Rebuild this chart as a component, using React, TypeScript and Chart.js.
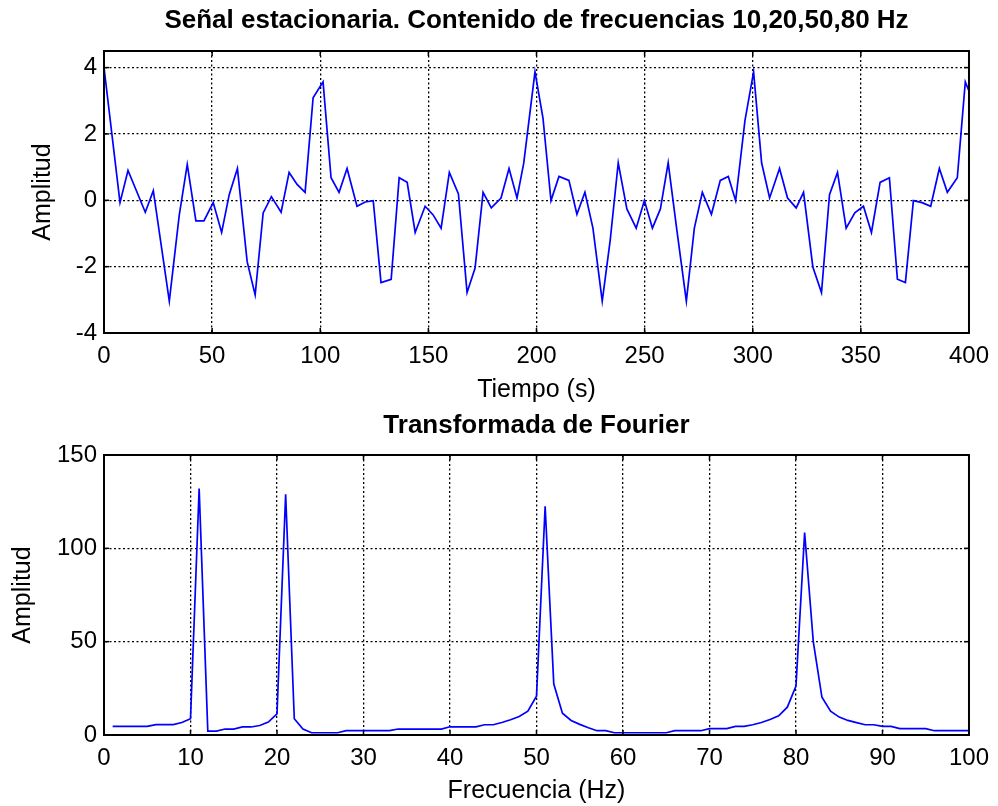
import React, { useEffect, useRef } from 'react';
import { Chart, registerables } from 'chart.js';

Chart.register(...registerables);

// ---------- Data ----------
const TIME_S = [
  0, 7.4, 11.1, 19.1, 22.8, 30.2, 34.8, 38.5, 42.5, 46.2,
  50.5, 54.4, 57.9, 61.7, 66.2, 69.9, 73.6, 77.4, 81.9, 85.6,
  89.3, 93.0, 96.7, 101.3, 105.0, 108.7, 112.4, 117.0, 120.8, 124.5,
  128.1, 132.8, 136.5, 140.2, 143.9, 148.5, 152.2, 155.9, 159.7, 163.9,
  167.9, 171.6, 175.3, 179.1, 183.6, 187.3, 191.0, 194.1, 199.3, 203.0,
  206.7, 210.4, 215.0, 218.7, 222.4, 226.1, 230.4, 234.1, 237.8, 241.8,
  246.1, 249.9, 253.6, 257.3, 260.9, 264.9, 269.3, 273.0, 276.7, 280.9,
  285.0, 288.7, 292.1, 296.4, 300.4, 304.1, 307.8, 312.4, 316.1, 320.1,
  323.5, 327.8, 331.8, 335.5, 339.2, 343.2, 347.2, 351.2, 354.9, 358.9,
  363.2, 366.9, 370.6, 374.3, 378.3, 382.3, 386.3, 390.0, 394.6, 398.3,
  400,
];

const SIGNAL_AMP = [
  4.0, -0.07, 0.9, -0.36, 0.29, -3.04, -0.45, 1.08, -0.62, -0.62,
  -0.07, -0.97, 0.17, 0.96, -1.85, -2.85, -0.38, 0.11, -0.36, 0.84,
  0.48, 0.24, 3.09, 3.57, 0.68, 0.24, 0.96, -0.18, -0.05, -0.01,
  -2.48, -2.38, 0.68, 0.54, -0.97, -0.18, -0.44, -0.84, 0.84, 0.19,
  -2.78, -2.04, 0.24, -0.23, 0.07, 0.96, 0.07, 1.12, 3.87, 2.48,
  -0.01, 0.72, 0.6, -0.42, 0.24, -0.84, -3.04, -1.2, 1.13, -0.26,
  -0.84, -0.01, -0.84, -0.26, 1.13, -0.89, -3.04, -0.84, 0.24, -0.42,
  0.6, 0.72, -0.01, 2.4, 3.87, 1.13, 0.07, 0.96, 0.07, -0.23,
  0.24, -2.01, -2.78, 0.17, 0.84, -0.84, -0.38, -0.18, -0.97, 0.54,
  0.68, -2.38, -2.48, -0.01, -0.07, -0.18, 0.96, 0.24, 0.68, 3.57,
  3.3,
];

const FREQ_HZ = [
  1, 2, 3, 4, 5, 6, 7, 8, 9, 10,
  11, 12, 13, 14, 15, 16, 17, 18, 19, 20,
  21, 22, 23, 24, 25, 26, 27, 28, 29, 30,
  31, 32, 33, 34, 35, 36, 37, 38, 39, 40,
  41, 42, 43, 44, 45, 46, 47, 48, 49, 50,
  51, 52, 53, 54, 55, 56, 57, 58, 59, 60,
  61, 62, 63, 64, 65, 66, 67, 68, 69, 70,
  71, 72, 73, 74, 75, 76, 77, 78, 79, 80,
  81, 82, 83, 84, 85, 86, 87, 88, 89, 90,
  91, 92, 93, 94, 95, 96, 97, 98, 99, 100,
];

const FFT_AMP = [
  4.6, 4.6, 4.6, 4.6, 4.6, 5.6, 5.6, 5.6, 6.7, 8.7,
  132, 2.1, 2.1, 3.2, 3.2, 4.3, 4.3, 5.1, 6.9, 11.3,
  129, 8.7, 3.2, 1.2, 1.2, 1.2, 1.2, 2.3, 2.3, 2.3,
  2.3, 2.3, 2.3, 3.2, 3.2, 3.2, 3.2, 3.2, 3.2, 4.4,
  4.4, 4.4, 4.4, 5.5, 5.5, 6.7, 8.2, 9.9, 12.8, 20.8,
  122.5, 27.3, 11.7, 7.8, 5.7, 3.9, 2.3, 2.3, 1.2, 1.2,
  1.2, 1.2, 1.2, 1.2, 1.2, 2.3, 2.3, 2.3, 2.3, 3.4,
  3.4, 3.4, 4.6, 4.6, 5.5, 6.7, 8.3, 10.3, 14.9, 26.2,
  108.5, 50, 20.2, 12.8, 9.6, 7.8, 6.6, 5.5, 5.5, 4.6,
  4.6, 3.4, 3.4, 3.4, 3.4, 2.3, 2.3, 2.3, 2.3, 2.3,
];

const TIME_TICKS = [0, 50, 100, 150, 200, 250, 300, 350, 400];
const SIGNAL_TICKS = [-4, -2, 0, 2, 4];
const FREQ_TICKS = [0, 10, 20, 30, 40, 50, 60, 70, 80, 90, 100];
const FFT_TICKS = [0, 50, 100, 150];

const TOP_TITLE = 'Señal estacionaria. Contenido de frecuencias 10,20,50,80 Hz';
const BOTTOM_TITLE = 'Transformada de Fourier';

const FONT = "'Liberation Sans', Arial, Helvetica, sans-serif";

// MATLAB-like box with inward ticks on all four sides
const boxPlugin = {
  id: 'matlabBox',
  afterDraw(chart: any) {
    const { ctx, chartArea: a, scales } = chart;
    ctx.save();
    ctx.setLineDash([]);
    ctx.strokeStyle = '#000';
    ctx.lineWidth = 2;
    ctx.strokeRect(a.left, a.top, a.right - a.left, a.bottom - a.top);
    ctx.lineWidth = 1.5;
    const L = 5;
    const seg = (x1: number, y1: number, x2: number, y2: number) => {
      ctx.beginPath();
      ctx.moveTo(x1, y1);
      ctx.lineTo(x2, y2);
      ctx.stroke();
    };
    scales.x.ticks.forEach((t: any) => {
      const px = scales.x.getPixelForValue(t.value);
      seg(px, a.bottom, px, a.bottom - L);
      seg(px, a.top, px, a.top + L);
    });
    scales.y.ticks.forEach((t: any) => {
      const py = scales.y.getPixelForValue(t.value);
      seg(a.left, py, a.left + L, py);
      seg(a.right, py, a.right - L, py);
    });
    ctx.restore();
  },
};

// Title centred over the plot area (as MATLAB does)
function titlePlugin(text: string, y: number) {
  return {
    id: 'plotTitle',
    afterDraw(chart: any) {
      const { ctx, chartArea: a } = chart;
      ctx.save();
      ctx.fillStyle = '#000';
      ctx.font = `bold 26px ${FONT}`;
      ctx.textAlign = 'center';
      ctx.textBaseline = 'middle';
      ctx.fillText(text, (a.left + a.right) / 2, y);
      ctx.restore();
    },
  };
}

type Cfg = {
  xs: number[];
  ys: number[];
  xTicks: number[];
  yTicks: number[];
  xMin: number;
  xMax: number;
  yMin: number;
  yMax: number;
  title: string;
  titleY: number;
  topPad: number;
  xTitle: string;
  yTitlePadTop: number;
  xAxisHeight: number;
};

function makeChart(canvas: HTMLCanvasElement, c: Cfg) {
  const grid = { color: '#000', lineWidth: 1.3, drawTicks: false };
  const border = { display: true, color: '#000', width: 2, dash: [2, 2.5] };
  return new Chart(canvas, {
    type: 'line',
    data: {
      datasets: [
        {
          data: c.xs.map((x, i) => ({ x, y: c.ys[i] })),
          borderColor: '#0000ff',
          borderWidth: 1.7,
          pointRadius: 0,
          tension: 0,
          fill: false,
        },
      ],
    },
    options: {
      animation: false,
      responsive: false,
      devicePixelRatio: 1,
      layout: { padding: { left: 0, right: 26, top: c.topPad, bottom: 0 } },
      plugins: {
        legend: { display: false },
        tooltip: { enabled: false },
        title: { display: false },
      },
      scales: {
        x: {
          type: 'linear',
          min: c.xMin,
          max: c.xMax,
          grid,
          border,
          afterBuildTicks: (s: any) => {
            s.ticks = c.xTicks.map((v) => ({ value: v }));
          },
          afterFit: (s: any) => {
            s.height = c.xAxisHeight;
          },
          ticks: {
            color: '#000',
            font: { family: FONT, size: 24 },
            padding: 9,
            autoSkip: false,
            maxRotation: 0,
          },
          title: {
            display: true,
            text: c.xTitle,
            color: '#000',
            font: { family: FONT, size: 25, lineHeight: 1.2 },
            padding: { top: 0, bottom: 0 },
          },
        },
        y: {
          type: 'linear',
          min: c.yMin,
          max: c.yMax,
          grid,
          border,
          afterBuildTicks: (s: any) => {
            s.ticks = c.yTicks.map((v) => ({ value: v }));
          },
          afterFit: (s: any) => {
            s.width = 104;
          },
          ticks: {
            color: '#000',
            font: { family: FONT, size: 24 },
            padding: 7,
          },
          title: {
            display: true,
            text: 'Amplitud',
            color: '#000',
            font: { family: FONT, size: 25, lineHeight: 1.2 },
            padding: { top: c.yTitlePadTop, bottom: 0 },
          },
        },
      },
    } as any,
    plugins: [boxPlugin, titlePlugin(c.title, c.titleY)],
  });
}

export default function App() {
  const topRef = useRef<HTMLCanvasElement>(null);
  const botRef = useRef<HTMLCanvasElement>(null);

  useEffect(() => {
    const top = makeChart(topRef.current!, {
      xs: TIME_S,
      ys: SIGNAL_AMP,
      xTicks: TIME_TICKS,
      yTicks: SIGNAL_TICKS,
      xMin: 0,
      xMax: 400,
      yMin: -4,
      yMax: 4.5,
      title: TOP_TITLE,
      titleY: 21,
      topPad: 51,
      xTitle: 'Tiempo (s)',
      yTitlePadTop: 28,
      xAxisHeight: 72,
    });
    const bot = makeChart(botRef.current!, {
      xs: FREQ_HZ,
      ys: FFT_AMP,
      xTicks: FREQ_TICKS,
      yTicks: FFT_TICKS,
      xMin: 0,
      xMax: 100,
      yMin: 0,
      yMax: 150,
      title: BOTTOM_TITLE,
      titleY: 21,
      topPad: 50,
      xTitle: 'Frecuencia (Hz)',
      yTitlePadTop: 8,
      xAxisHeight: 71,
    });
    return () => {
      top.destroy();
      bot.destroy();
    };
  }, []);

  return (
    <div style={{ position: 'absolute', left: 0, top: 0, width: 998, height: 806, background: '#fff' }}>
      <canvas ref={topRef} width={998} height={405} style={{ display: 'block', width: 998, height: 405 }} />
      <canvas ref={botRef} width={998} height={401} style={{ display: 'block', width: 998, height: 401 }} />
    </div>
  );
}
